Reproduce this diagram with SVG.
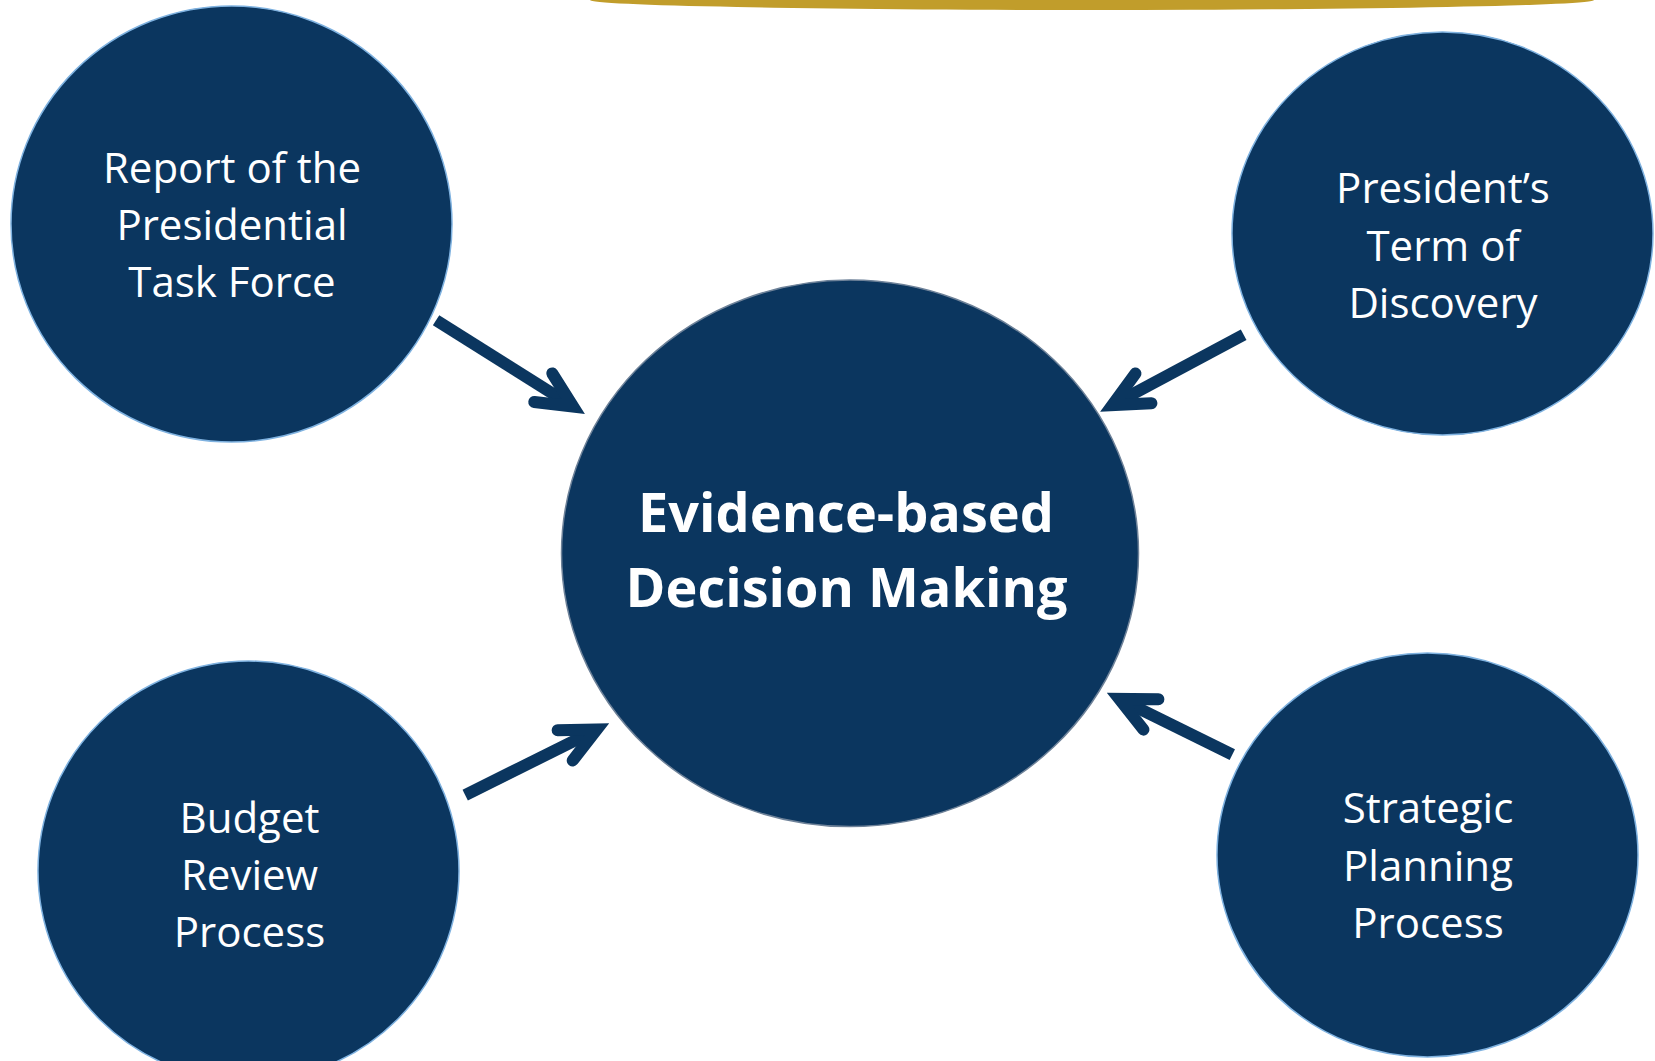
<svg xmlns="http://www.w3.org/2000/svg" width="1655" height="1061" viewBox="0 0 1655 1061">
  <style>
    .node { fill: #0B365F; stroke: #7FB2E0; stroke-width: 1.5; }
    .hub { fill: #0B365F; stroke: #6E8299; stroke-width: 1.5; }
    .lbl { font-family: "Open Sans", "Noto Sans", sans-serif; font-size: 42px; fill: #FFFFFF; text-anchor: middle; }
    .hubl { font-family: "Open Sans", "Noto Sans", sans-serif; font-size: 54px; font-weight: bold; fill: #FFFFFF; text-anchor: middle; }
    .shaft { fill: none; stroke: #0B365F; stroke-width: 12; stroke-linecap: butt; }
    .head { fill: none; stroke: #0B365F; stroke-width: 12; stroke-linecap: round; stroke-linejoin: miter; stroke-miterlimit: 10; }
  </style>
  <rect width="1655" height="1061" fill="#FFFFFF"/>
  <ellipse id="gold-band" cx="1092" cy="0" rx="502" ry="10" fill="#C19D2B"/>

  <g id="connectors">
    <g transform="translate(585 414) rotate(32.2)">
      <path class="shaft" d="M -176 0 L -14 0"/>
      <path class="head" d="M -49.3 -16.9 L -14 0 L -49.3 16.9"/>
    </g>
    <g transform="translate(1100 411.7) rotate(151.8)">
      <path class="shaft" d="M -163 0 L -14 0"/>
      <path class="head" d="M -49.3 -16.9 L -14 0 L -49.3 16.9"/>
    </g>
    <g transform="translate(609.3 723.3) rotate(-26.5)">
      <path class="shaft" d="M -161 0 L -14 0"/>
      <path class="head" d="M -49.3 -16.9 L -14 0 L -49.3 16.9"/>
    </g>
    <g transform="translate(1106.7 692.7) rotate(206.2)">
      <path class="shaft" d="M -140 0 L -14 0"/>
      <path class="head" d="M -49.3 -16.9 L -14 0 L -49.3 16.9"/>
    </g>
  </g>

  <g id="node-task-force">
    <ellipse class="node" cx="231.5" cy="224" rx="220.5" ry="218"/>
    <text class="lbl" x="232" y="183">Report of the</text>
    <text class="lbl" x="232" y="240">Presidential</text>
    <text class="lbl" x="232" y="297">Task Force</text>
  </g>

  <g id="node-term-of-discovery">
    <ellipse class="node" cx="1442.5" cy="233.5" rx="210.5" ry="201.5"/>
    <text class="lbl" x="1443" y="203">President’s</text>
    <text class="lbl" x="1443" y="261">Term of</text>
    <text class="lbl" x="1443" y="318">Discovery</text>
  </g>

  <g id="node-budget-review">
    <ellipse class="node" cx="248.5" cy="871" rx="210.5" ry="210"/>
    <text class="lbl" x="249.5" y="833">Budget</text>
    <text class="lbl" x="249.5" y="890">Review</text>
    <text class="lbl" x="249.5" y="947">Process</text>
  </g>

  <g id="node-strategic-planning">
    <ellipse class="node" cx="1427.5" cy="855" rx="210.5" ry="202"/>
    <text class="lbl" x="1428" y="823">Strategic</text>
    <text class="lbl" x="1428" y="881">Planning</text>
    <text class="lbl" x="1428" y="938">Process</text>
  </g>

  <g id="node-evidence-based">
    <ellipse class="hub" cx="850" cy="553.3" rx="288.5" ry="273.3"/>
    <text class="hubl" x="846" y="532">Evidence-based</text>
    <text class="hubl" x="846.5" y="607">Decision Making</text>
  </g>
</svg>
